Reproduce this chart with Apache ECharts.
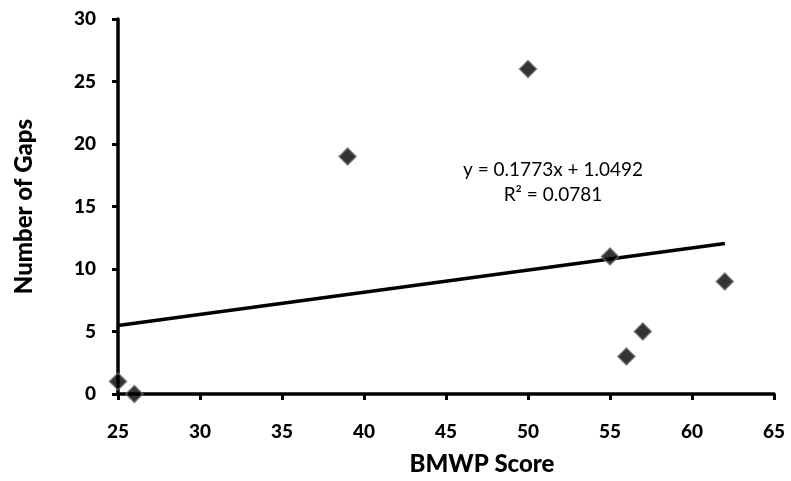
<!DOCTYPE html>
<html>
<head>
<meta charset="utf-8">
<script src="https://cdn.jsdelivr.net/npm/echarts@6/dist/echarts.min.js"></script>
<style>
  html, body { margin: 0; padding: 0; background: #fff; }
  #chart { width: 791px; height: 481px; }
</style>
</head>
<body>
<div id="chart"></div>
<script>
// BMWP score vs number of gaps
const bmwpScores = [25, 26, 39, 50, 55, 56, 57, 62];
const gapCounts = [1, 0, 19, 26, 11, 3, 5, 9];

// linear trend shown in the chart
const trendSlope = 0.1773;
const trendIntercept = 1.0492;
const trendRange = [25, 62];
const trendLabel = ['y = 0.1773x + 1.0492', 'R\u00b2 = 0.0781'];

const fontFamily = 'Lato, "Open Sans", sans-serif';

const chart = echarts.init(document.getElementById('chart'));

const points = bmwpScores.map((x, i) => [x, gapCounts[i]]);
const trendPoints = trendRange.map(x => [x, trendSlope * x + trendIntercept]);

const axisCommon = {
    axisLine: { show: true, onZero: false, lineStyle: { color: '#000', width: 3.5 } },
    axisTick: { show: true, inside: false, length: 6, lineStyle: { color: '#000', width: 3 } },
    splitLine: { show: false },
    axisLabel: { color: '#000', fontWeight: 900, fontSize: 19, fontFamily: fontFamily },
    nameTextStyle: { color: '#000', fontWeight: 900, fontSize: 24, fontFamily: fontFamily }
};

const option = {
    backgroundColor: '#fff',
    animation: false,
    grid: { left: 118, right: 17, top: 19, bottom: 83 },
    xAxis: Object.assign({}, axisCommon, {
        type: 'value',
        min: 25,
        max: 65,
        interval: 5,
        name: 'BMWP Score',
        nameLocation: 'middle',
        nameGap: 58,
        nameTextStyle: Object.assign({}, axisCommon.nameTextStyle, { padding: [0, 0, 0, 72] }),
        axisLabel: Object.assign({}, axisCommon.axisLabel, { margin: 28 })
    }),
    yAxis: Object.assign({}, axisCommon, {
        type: 'value',
        min: 0,
        max: 30,
        interval: 5,
        name: 'Number of Gaps',
        nameLocation: 'middle',
        nameGap: 82,
        axisLabel: Object.assign({}, axisCommon.axisLabel, { margin: 22 })
    }),
    series: [
        {
            type: 'line',
            data: trendPoints,
            symbol: 'none',
            lineStyle: { color: '#000', width: 3.5 },
            z: 2
        },
        {
            type: 'scatter',
            data: points,
            symbol: 'diamond',
            symbolSize: [17, 17],
            itemStyle: { color: '#000', borderColor: '#6e6e6e', borderWidth: 1.5 },
            z: 3
        }
    ],
    graphic: trendLabel.map((text, i) => ({
        type: 'text',
        x: 553,
        y: 170 + i * 25,
        style: {
            text: text,
            align: 'center',
            verticalAlign: 'middle',
            fill: '#000',
            fontSize: 19,
            fontFamily: fontFamily
        }
    }))
};

chart.setOption(option);
</script>
</body>
</html>
